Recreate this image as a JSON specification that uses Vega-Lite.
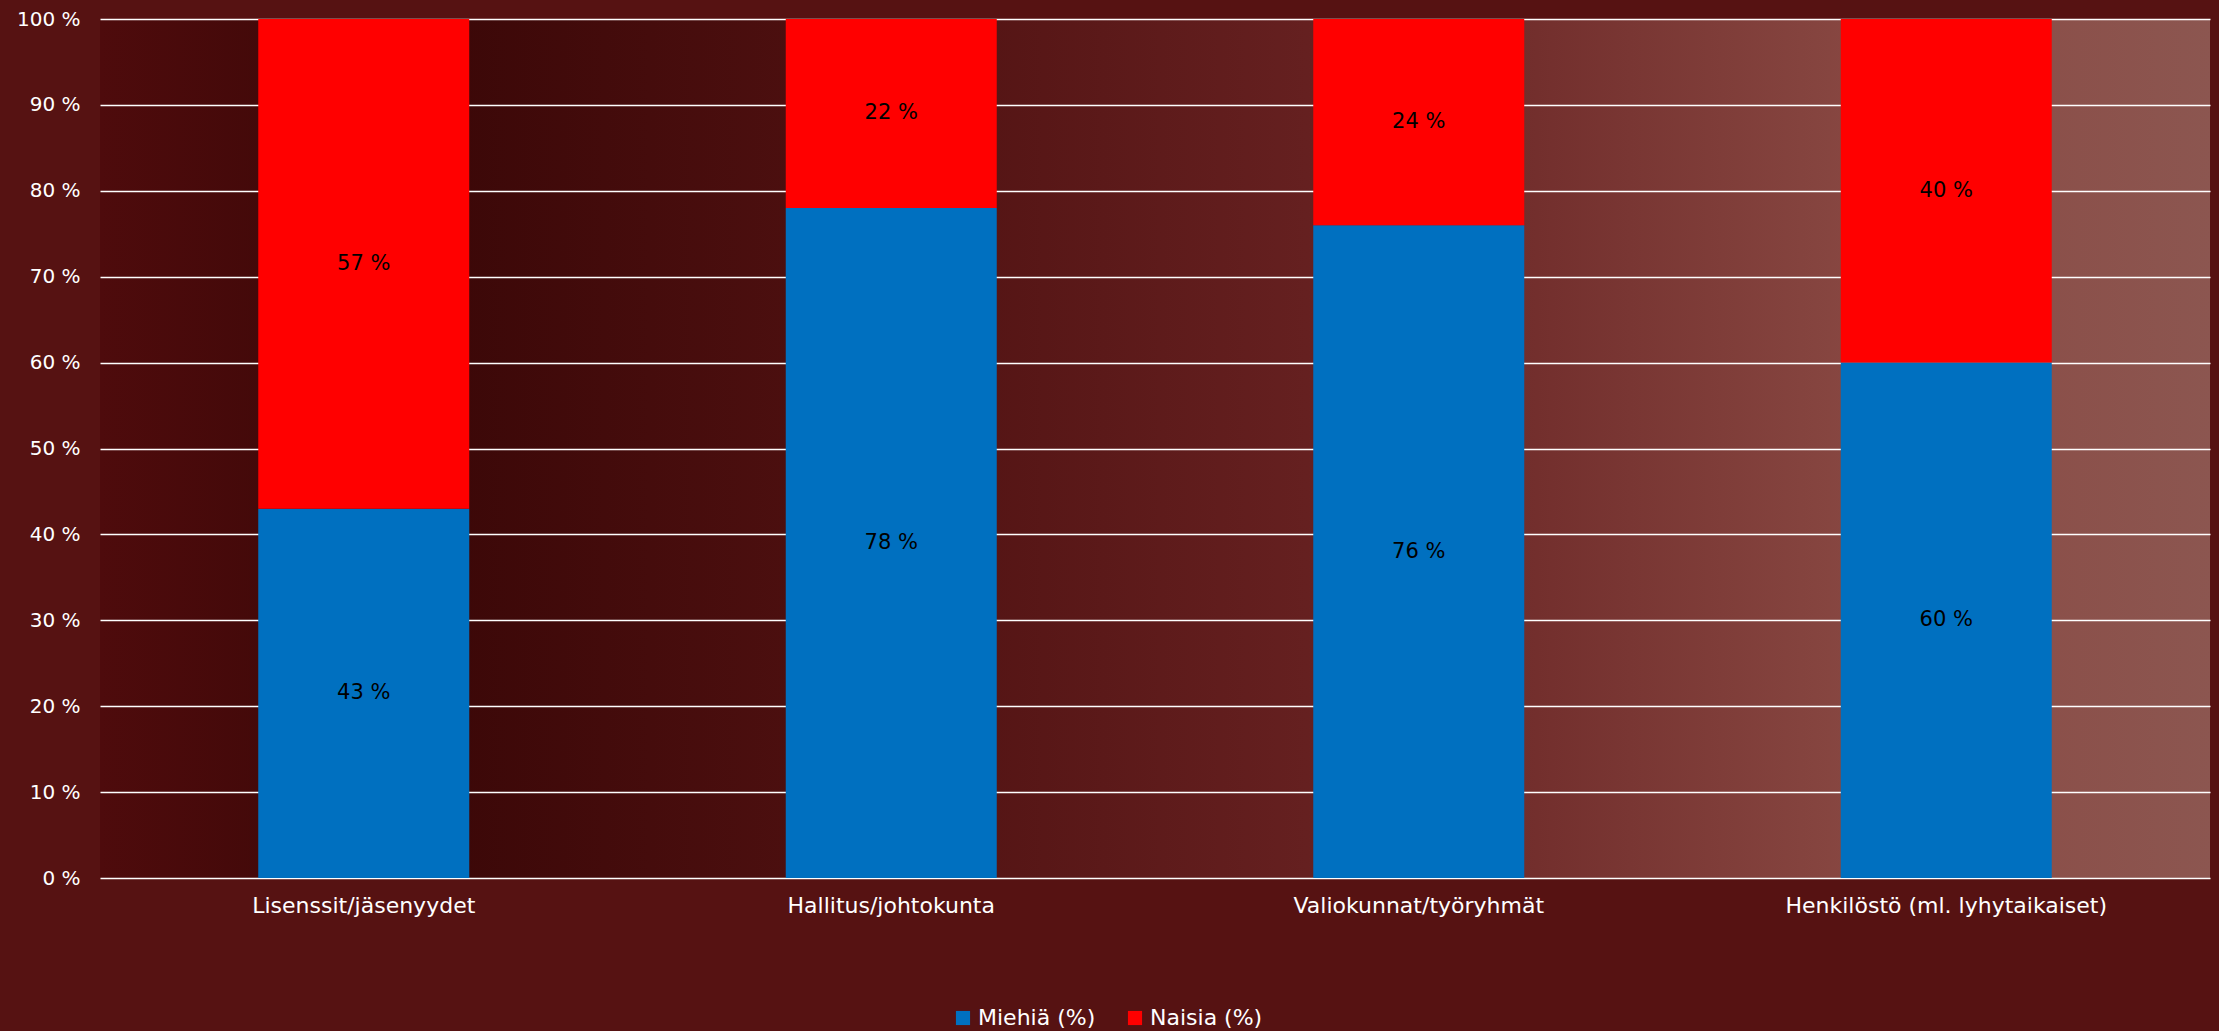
{
  "$schema": "https://vega.github.io/schema/vega-lite/v6.json",
  "width": 2110,
  "height": 859,
  "autosize": {"type": "none"},
  "padding": {"left": 100, "top": 19, "right": 9, "bottom": 153},
  "background": "#561212",
  "view": {"stroke": null, "fill": {"gradient": "linear", "x1": 0, "y1": 0, "x2": 1, "y2": 0, "stops": [{"offset": 0, "color": "#4e0b0c"}, {"offset": 0.15, "color": "#3a0707"}, {"offset": 0.35, "color": "#4e1010"}, {"offset": 0.6, "color": "#682222"}, {"offset": 0.85, "color": "#8a4a44"}, {"offset": 1, "color": "#8c5650"}]}},
  "config": {
    "font": "DejaVu Sans",
    "axis": {"labelFont": "DejaVu Sans", "labelColor": "#ffffff", "labelFontSize": 20, "labelFontWeight": "normal"},
    "legend": {"labelFont": "DejaVu Sans", "labelColor": "#ffffff", "labelFontSize": 22}
  },
  "data": {
    "values": [
      {"cat": "Lisenssit/jäsenyydet", "series": "Miehiä (%)", "value": 43},
      {"cat": "Lisenssit/jäsenyydet", "series": "Naisia (%)", "value": 57},
      {"cat": "Hallitus/johtokunta", "series": "Miehiä (%)", "value": 78},
      {"cat": "Hallitus/johtokunta", "series": "Naisia (%)", "value": 22},
      {"cat": "Valiokunnat/työryhmät", "series": "Miehiä (%)", "value": 76},
      {"cat": "Valiokunnat/työryhmät", "series": "Naisia (%)", "value": 24},
      {"cat": "Henkilöstö (ml. lyhytaikaiset)", "series": "Miehiä (%)", "value": 60},
      {"cat": "Henkilöstö (ml. lyhytaikaiset)", "series": "Naisia (%)", "value": 40}
    ]
  },
  "transform": [
    {"stack": "value", "groupby": ["cat"], "sort": [{"field": "series", "order": "ascending"}], "as": ["v0", "v1"]},
    {"calculate": "(datum.v0 + datum.v1) / 2", "as": "mid"},
    {"calculate": "datum.value + ' %'", "as": "label"}
  ],
  "encoding": {
    "x": {
      "field": "cat", "type": "nominal", "sort": null, "title": null,
      "scale": {"paddingInner": 0.6, "paddingOuter": 0.3},
      "axis": {"labelAngle": 0, "domain": false, "ticks": false, "labelPadding": 17, "grid": false, "labelLimit": 0, "labelFontSize": 22}
    }
  },
  "layer": [
    {
      "mark": {"type": "bar"},
      "encoding": {
        "y": {
          "field": "v0", "type": "quantitative", "title": null,
          "scale": {"domain": [0, 100], "nice": false},
          "axis": {"values": [0, 10, 20, 30, 40, 50, 60, 70, 80, 90, 100], "labelExpr": "datum.value + ' %'", "domain": false, "ticks": false, "labelPadding": 20, "grid": true, "gridColor": "#ffffff", "gridWidth": 1.6, "gridOpacity": 1}
        },
        "y2": {"field": "v1"},
        "color": {
          "field": "series", "type": "nominal",
          "scale": {"domain": ["Miehiä (%)", "Naisia (%)"], "range": ["#0070C0", "#FF0000"]},
          "legend": {"title": null, "orient": "none", "legendX": 852, "legendY": 988, "direction": "horizontal", "symbolType": "square", "symbolSize": 200, "symbolOpacity": 1, "symbolStrokeWidth": 0, "columnPadding": 28, "labelOffset": 4}
        }
      }
    },
    {
      "mark": {"type": "text", "color": "#000000", "fontSize": 21, "font": "DejaVu Sans"},
      "encoding": {
        "y": {"field": "mid", "type": "quantitative"},
        "text": {"field": "label", "type": "nominal"}
      }
    }
  ]
}
